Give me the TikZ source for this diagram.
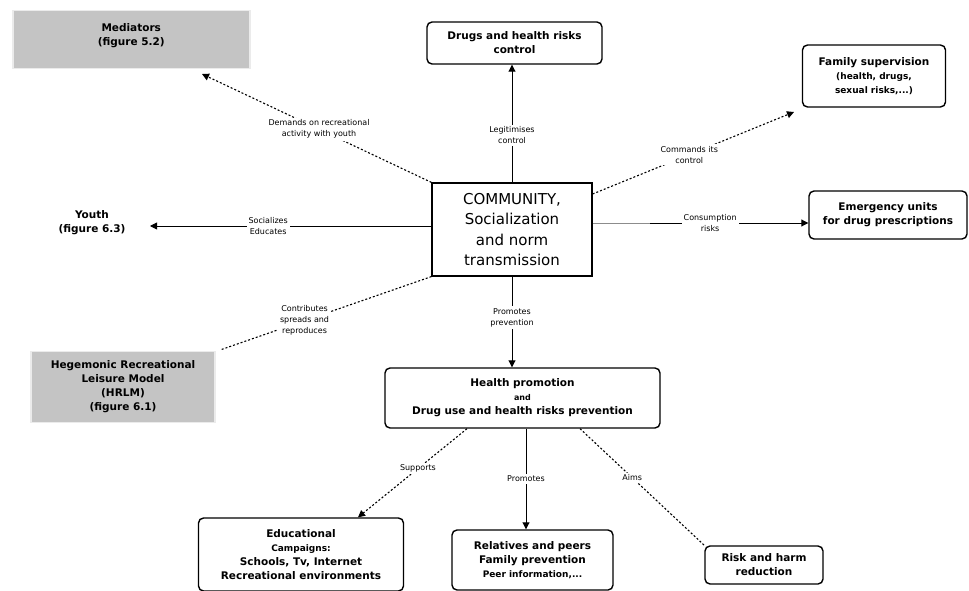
\documentclass[tikz,border=0pt]{standalone}
\usepackage{fontspec}
\setmainfont{DejaVu Sans}
\usetikzlibrary{arrows.meta}
\begin{document}
\begin{tikzpicture}[x=1pt,y=-1pt,
  every node/.style={align=center,inner sep=2pt},
  boxfont/.style={font=\bfseries\fontsize{10.5}{14}\selectfont},
  roundbox/.style={draw,line width=1.4pt,rounded corners=5pt,boxfont},
  greybox/.style={fill=black!23,draw=black!8,line width=1.5pt,boxfont},
  edgelabel/.style={fill=white,font=\fontsize{8}{11}\selectfont,inner sep=2pt},
  solidarrow/.style={line width=0.9pt,-{Triangle[length=7pt,width=7pt]}},
  dotarrow/.style={line width=1.1pt,dash pattern=on 2pt off 2pt,-{Triangle[length=7pt,width=7pt]}},
  dotline/.style={line width=1.1pt,dash pattern=on 2pt off 2pt}]
\useasboundingbox (0,0) rectangle (969,591);

% central node
\node[draw,line width=1.2pt,minimum width=160pt,minimum height=93pt,
      font=\fontsize{15}{20.5}\selectfont] (com) at (512,229.5)
  {COMMUNITY,\\Socialization\\and norm\\transmission};

% surrounding nodes
\node[greybox,minimum width=237pt,minimum height=58pt,anchor=north west] (med) at (12,10)
  {Mediators\\(figure 5.2)\\[-4pt]};
\node[roundbox,minimum width=175pt,minimum height=42pt] (drug) at (514.5,43)
  {Drugs and health risks\\control};
\node[roundbox,minimum width=143pt,minimum height=62pt] (fam) at (874,76)
  {Family supervision\\{\fontsize{9}{11.5}\selectfont (health, drugs,}\\{\fontsize{9}{11.5}\selectfont sexual risks,...)}};
\node[roundbox,minimum width=158pt,minimum height=48pt] (emg) at (888,215)
  {Emergency units\\for drug prescriptions};
\node[boxfont] (you) at (92,223) {Youth\\(figure 6.3)};
\node[greybox,minimum width=184pt,minimum height=71pt] (hrlm) at (123,387)
  {Hegemonic Recreational\\Leisure Model\\(HRLM)\\(figure 6.1)};
\node[roundbox,minimum width=275pt,minimum height=60pt] (hp) at (522.5,398)
  {Health promotion\\{\fontsize{8}{9}\selectfont and}\\Drug use and health risks prevention};
\node[roundbox,minimum width=205pt,minimum height=73pt] (edu) at (301,554.5)
  {Educational\\{\fontsize{9}{11.5}\selectfont Campaigns:}\\Schools, Tv, Internet\\Recreational environments};
\node[roundbox,minimum width=161pt,minimum height=60pt] (rel) at (532.5,560)
  {Relatives and peers\\Family prevention\\{\fontsize{9}{11.5}\selectfont Peer information,...}};
\node[roundbox,minimum width=118pt,minimum height=38pt] (risk) at (764,565)
  {Risk and harm\\reduction};

% free ends and bends of connectors
\coordinate (youthend) at (150,226);
\coordinate (medend) at (202,74);
\coordinate (famend) at (794,112);
\coordinate (emgsplit) at (650,223);
\coordinate (hrlmend) at (220,350);

% connectors with their labels
\draw[solidarrow] (com.north) -- node[edgelabel,pos=0.4] {Legitimises\\control} (drug.south -| com.north);
\draw[dotarrow] (com.north west) -- node[edgelabel,pos=0.49] {Demands on recreational\\activity with youth} (medend);
\draw[dotarrow] (com.east |- 0,194) -- node[edgelabel,pos=0.48] {Commands its\\control} (famend);
\draw[black!45,line width=0.9pt] (com.east |- emgsplit) -- (emgsplit);
\draw[solidarrow] (emgsplit) -- node[edgelabel,pos=0.38] {Consumption\\risks} (emg.west |- emgsplit);
\draw[solidarrow] (com.west |- youthend) -- node[edgelabel,pos=0.58] {Socializes\\Educates} (youthend);
\draw[dotline] (com.south west) -- node[edgelabel,pos=0.6] {Contributes\\spreads and\\reproduces} (hrlmend);
\draw[solidarrow] (com.south) -- node[edgelabel,pos=0.45] {Promotes\\prevention} (hp.north -| com.south);
\draw[dotarrow] (hp.south -| 467,0) -- node[edgelabel,pos=0.45] {Supports} (edu.north -| 358,0);
\draw[solidarrow] (hp.south -| 526,0) -- node[edgelabel,pos=0.5] {Promotes} (rel.north -| 526,0);
\draw[dotline] (hp.south -| 580,0) -- node[edgelabel,pos=0.42] {Aims} (risk.north west);
\end{tikzpicture}
\end{document}
